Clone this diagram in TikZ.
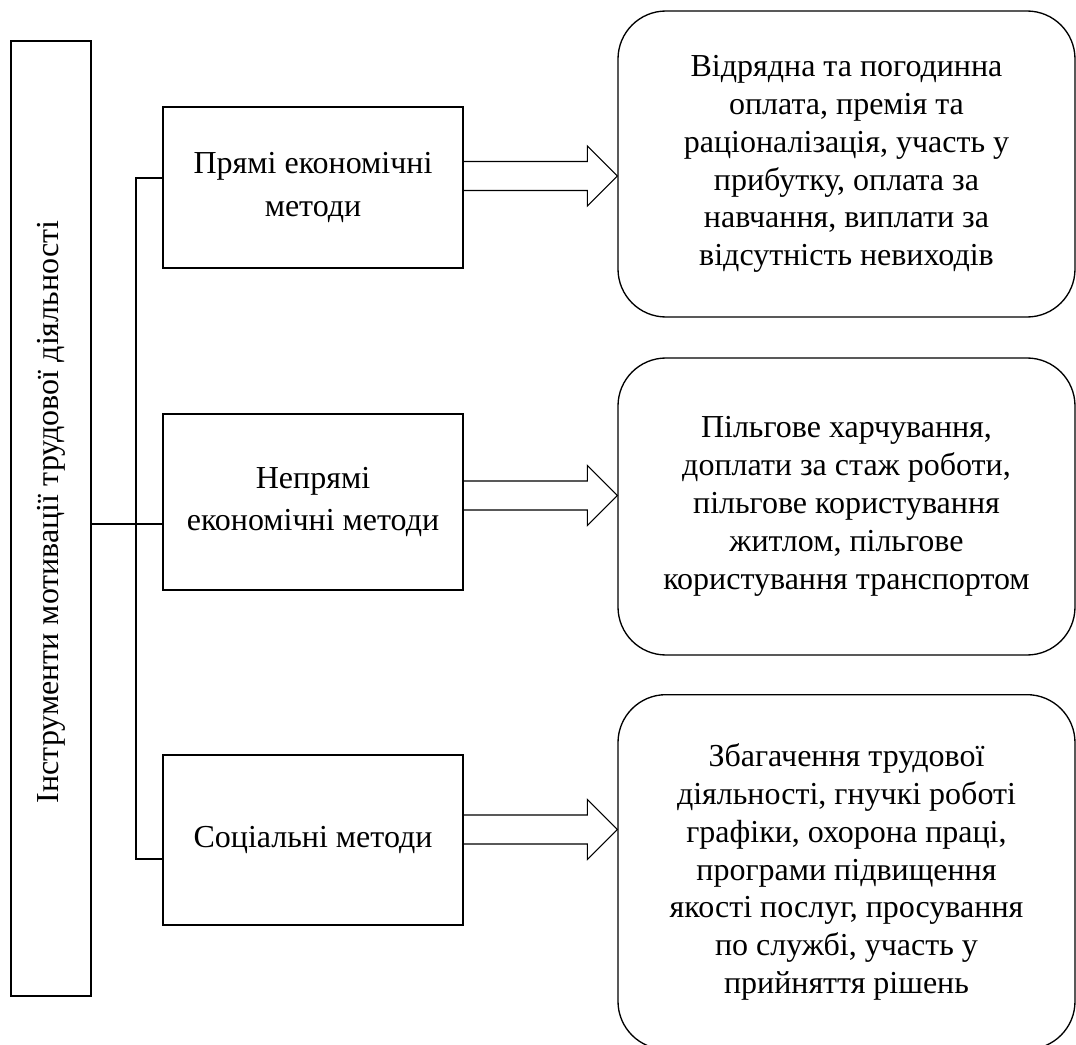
\documentclass[tikz,border=0pt]{standalone}
\usepackage{fontspec}
\setmainfont{Liberation Serif}
\usetikzlibrary{calc}

\tikzset{
  txt/.style={font=\fontsize{24pt}{28.4pt}\selectfont, align=center},
  titlebox/.style={draw, line width=1.1pt, inner sep=0pt},
  methodbox/.style={draw, line width=1.5pt, inner sep=0pt, align=center,
    font=\fontsize{24pt}{32pt}\selectfont},
  detailbox/.style={draw, line width=1pt, rounded corners=36pt, inner sep=0pt, txt},
  bracket/.style={line width=1.5pt},
  blockarrow/.style={draw, line width=0.8pt, fill=white, line join=miter}
}

% block arrow from the east side of #1 to the west side of #2 at height #3
\newcommand\flowarrow[3]{%
  \draw[blockarrow] ($(#1.east |- 0,#3)+(0,-14.5)$) -- ($(#2.west |- 0,#3)+(-30,-14.5)$)
    -- ($(#2.west |- 0,#3)+(-30,-30)$) -- (#2.west |- 0,#3)
    -- ($(#2.west |- 0,#3)+(-30,30)$) -- ($(#2.west |- 0,#3)+(-30,14.5)$)
    -- ($(#1.east |- 0,#3)+(0,14.5)$);}

\begin{document}
\begin{tikzpicture}[x=0.75pt, y=-0.75pt]
\useasboundingbox (0,0) rectangle (1076,1045);

% title column
\node[titlebox, minimum width=60pt, minimum height=716.25pt] (main) at (51,518.5) {};
\node[txt, rotate=90] (maintxt) at (51,512) {Інструменти мотивації трудової діяльності};

% method groups
\node[methodbox, minimum width=225pt, minimum height=120.75pt] (m1) at (313,187.5)
  {Прямі економічні\\методи};
\node[methodbox, minimum width=225pt, minimum height=132pt] (m2) at (313,502)
  {Непрямі\\економічні методи};
\node[methodbox, minimum width=225pt, minimum height=127.5pt] (m3) at (313,840)
  {Соціальні методи};

% details
\node[detailbox, minimum width=342.75pt, minimum height=229.5pt] (r1) at (846.5,164)
  {Відрядна та погодинна\\оплата, премія та\\раціоналізація, участь у\\прибутку, оплата за\\навчання, виплати за\\відсутність невиходів};
\node[detailbox, minimum width=342.75pt, minimum height=222.75pt] (r2) at (846.5,506.5)
  {Пільгове харчування,\\доплати за стаж роботи,\\пільгове користування\\житлом, пільгове\\користування транспортом};
\node[detailbox, minimum width=342.75pt, minimum height=266pt] (r3) at (846.5,872)
  {Збагачення трудової\\діяльності, гнучкі роботі\\графіки, охорона праці,\\програми підвищення\\якості послуг, просування\\по службі, участь у\\прийняття рішень};

% bracket joining the title column to the groups
\coordinate (bt) at (136,178);
\coordinate (bb) at (136,859);
\draw[bracket] (m1.west |- bt) -- (bt) -- (bb) -- (m3.west |- bb);
\draw[bracket] (main.east |- 0,524) -- (m2.west |- 0,524);

% arrows to the details
\flowarrow{m1}{r1}{176}
\flowarrow{m2}{r2}{495.5}
\flowarrow{m3}{r3}{829.5}
\end{tikzpicture}
\end{document}
